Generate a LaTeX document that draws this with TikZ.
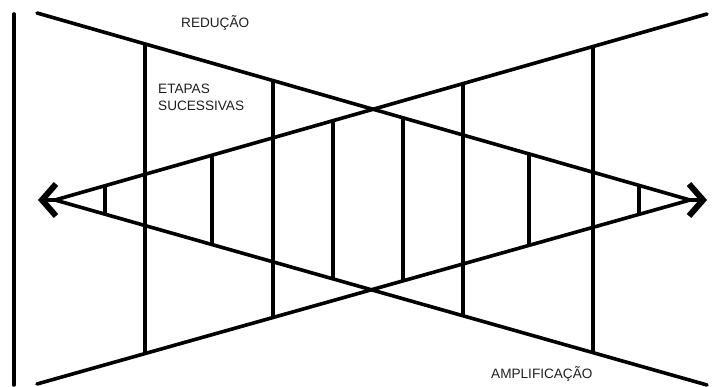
\documentclass[tikz,border=0pt]{standalone}
\usepackage{fontspec}
\setmainfont{Liberation Sans}
\usetikzlibrary{arrows.meta,intersections}
\begin{document}
\begin{tikzpicture}[x=1pt,y=-1pt,
  diag/.style={line width=3.6pt,line cap=round},
  rung/.style={line width=3.1pt},
  lbl/.style={font=\fontsize{13.6}{17}\selectfont, text=black!88, inner sep=0pt, align=left},
  tipstyle/.style={line width=3.6pt, -{Straight Barb[length=14pt,width=32pt,line width=6pt]}}]
\useasboundingbox (0,0) rectangle (721,387);
\coordinate (TL) at (37,13);
\coordinate (TR) at (707,14);
\coordinate (BL) at (37,384);
\coordinate (BR) at (707,385);
\coordinate (LT) at (38,200);
\coordinate (RT) at (707,200);
\coordinate (LTi) at (55,200);
\coordinate (RTi) at (690,200);
\coordinate (VT) at (14,14);
\coordinate (VB) at (14,385);
\draw[diag] (VT) -- (VB);
\draw[diag,name path=L1] (TL) -- (RTi);
\draw[diag,name path=L2] (LTi) -- (TR);
\draw[diag,name path=L3] (LTi) -- (BR);
\draw[diag,name path=L4] (BL) -- (RTi);
\draw[tipstyle] (LTi) -- (LT);
\draw[tipstyle] (RTi) -- (RT);
\foreach \x/\ta/\tb in {145/L1/L4, 273/L1/L4, 463/L2/L3, 593/L2/L3, 105/L2/L3, 212/L2/L3, 333/L2/L3, 403/L1/L4, 529/L1/L4, 639/L1/L4} {
  \path[name path=guide] (\x,0) -- (\x,400);
  \path[name intersections={of=guide and \ta, by=vt}];
  \path[name intersections={of=guide and \tb, by=vb}];
  \draw[rung] (vt) -- (vb);
}
\node[lbl, anchor=base west] (red) at (181,28) {REDUÇÃO};
\node[lbl, anchor=north west] (etp) at (158,84) {ETAPAS\\SUCESSIVAS};
\node[lbl, anchor=base west] (amp) at (491,379) {AMPLIFICAÇÃO};
\end{tikzpicture}
\end{document}
